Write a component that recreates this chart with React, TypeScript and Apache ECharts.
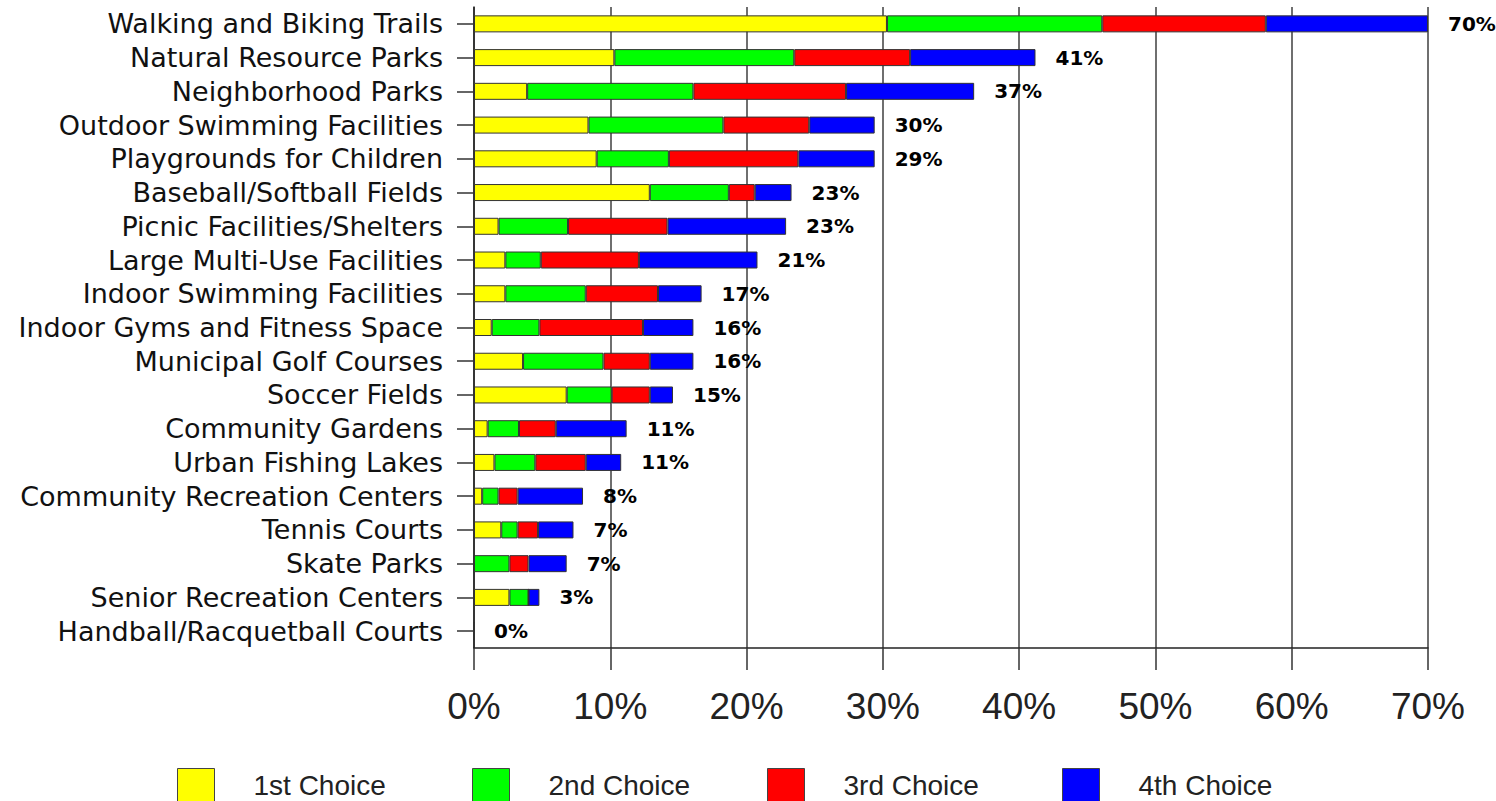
import React, { useEffect, useRef } from "react";
import * as echarts from "echarts";

const categories = [
  "Walking and Biking Trails",
  "Natural Resource Parks",
  "Neighborhood Parks",
  "Outdoor Swimming Facilities",
  "Playgrounds for Children",
  "Baseball/Softball Fields",
  "Picnic Facilities/Shelters",
  "Large Multi-Use Facilities",
  "Indoor Swimming Facilities",
  "Indoor Gyms and Fitness Space",
  "Municipal Golf Courses",
  "Soccer Fields",
  "Community Gardens",
  "Urban Fishing Lakes",
  "Community Recreation Centers",
  "Tennis Courts",
  "Skate Parks",
  "Senior Recreation Centers",
  "Handball/Racquetball Courts",
];

const firstChoice = [30.3, 10.3, 3.9, 8.4, 9.0, 12.9, 1.8, 2.3, 2.3, 1.3, 3.6, 6.8, 1.0, 1.5, 0.6, 2.0, 0, 2.6, 0];
const secondChoice = [15.8, 13.2, 12.2, 9.9, 5.3, 5.8, 5.1, 2.6, 5.9, 3.5, 5.9, 3.3, 2.3, 3.0, 1.2, 1.2, 2.6, 1.4, 0];
const thirdChoice = [12.0, 8.5, 11.2, 6.3, 9.5, 1.9, 7.3, 7.2, 5.3, 7.6, 3.4, 2.8, 2.7, 3.7, 1.4, 1.5, 1.4, 0, 0];
const fourthChoice = [11.9, 9.2, 9.4, 4.8, 5.6, 2.7, 8.7, 8.7, 3.2, 3.7, 3.2, 1.7, 5.2, 2.6, 4.8, 2.6, 2.8, 0.8, 0];
const totalLabels = ["70%", "41%", "37%", "30%", "29%", "23%", "23%", "21%", "17%", "16%", "16%", "15%", "11%", "11%", "8%", "7%", "7%", "3%", "0%"];

const seriesNames = ["1st Choice", "2nd Choice", "3rd Choice", "4th Choice"];
const seriesColors = ["#FFFF00", "#00FF00", "#FF0000", "#0000FF"];
const xTicks = [0, 10, 20, 30, 40, 50, 60, 70];

export default function App() {
  const ref = useRef<HTMLDivElement>(null);

  useEffect(() => {
    if (!ref.current) return;
    const chart = echarts.init(ref.current, undefined, { renderer: "svg" });
    const values = [firstChoice, secondChoice, thirdChoice, fourthChoice];
    const totals = categories.map((_, i) => values.reduce((s, arr) => s + arr[i], 0));

    const barSeries = seriesNames.map((name, k) => ({
      name,
      type: "bar",
      stack: "total",
      barWidth: 17,
      data: values[k],
      itemStyle: { color: seriesColors[k], borderColor: "#333", borderWidth: 1 },
      emphasis: { disabled: true },
    }));

    const legendLefts = [172, 467, 762, 1057];

    chart.setOption({
      animation: false,
      grid: { left: 474, right: 68, top: 7, bottom: 801 - 648 },
      legend: seriesNames.map((name, k) => ({
        data: [name],
        left: legendLefts[k],
        top: 763,
        icon: "rect",
        itemWidth: 37,
        itemHeight: 34,
        itemStyle: { borderColor: "#444", borderWidth: 1 },
        selectedMode: false,
        textStyle: {
          fontFamily: "Liberation Sans",
          fontSize: 28,
          lineHeight: 30,
          color: "#222",
          padding: [0, 0, 0, 34],
        },
      })),
      xAxis: {
        type: "value",
        min: xTicks[0],
        max: xTicks[xTicks.length - 1],
        interval: 10,
        axisLine: { show: true, lineStyle: { color: "#222", width: 1.5 } },
        axisTick: { show: true, length: 22, lineStyle: { color: "#333", width: 1.5 } },
        splitLine: { show: true, lineStyle: { color: "#6f6f6f", width: 2 } },
        axisLabel: {
          formatter: "{value}%",
          fontFamily: "Liberation Sans",
          fontSize: 37,
          color: "#222",
          margin: 40,
        },
      },
      yAxis: {
        type: "category",
        data: categories,
        inverse: true,
        axisLine: { show: true, lineStyle: { color: "#222", width: 1.5 } },
        axisTick: { show: true, alignWithLabel: true, length: 17, lineStyle: { color: "#333", width: 1.5 } },
        axisLabel: {
          fontFamily: "DejaVu Sans",
          fontSize: 27,
          color: "#111",
          margin: 31,
          interval: 0,
        },
      },
      series: [
        ...barSeries,
        {
          name: "totals",
          type: "scatter",
          symbolSize: 0,
          data: totals.map((t, i) => [t, i]),
          itemStyle: { color: "#000", opacity: 1 },
          label: {
            show: true,
            position: "right",
            distance: 20,
            formatter: (p: any) => totalLabels[p.dataIndex],
            fontFamily: "DejaVu Sans",
            fontWeight: "bold",
            fontSize: 20,
            color: "#000",
            opacity: 1,
          },
          emphasis: { disabled: true },
          silent: true,
        },
      ],
    });

    return () => chart.dispose();
  }, []);

  return (
    <div
      ref={ref}
      style={{ position: "absolute", left: 0, top: 0, width: 1496, height: 801 }}
    />
  );
}
